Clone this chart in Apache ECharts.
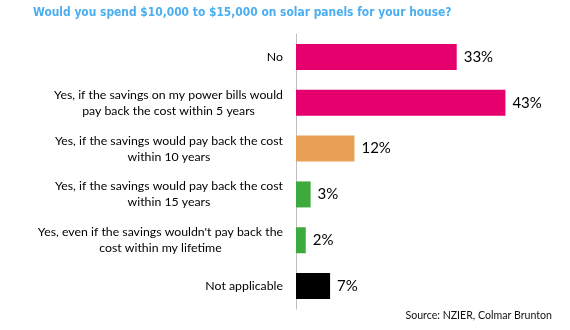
<!DOCTYPE html>
<html>
<head>
<meta charset="utf-8">
<script src="https://cdn.jsdelivr.net/npm/echarts@6/dist/echarts.min.js"></script>
<style>html,body{margin:0;padding:0;background:#fff;}#c{width:570px;height:330px;}</style>
</head>
<body>
<div id="c"></div>
<script>
const categories = [
  "No",
  "Yes, if the savings on my power bills would\npay back the cost within 5 years",
  "Yes, if the savings would pay back the cost\nwithin 10 years",
  "Yes, if the savings would pay back the cost\nwithin 15 years",
  "Yes, even if the savings wouldn't pay back the\ncost within my lifetime",
  "Not applicable"
];
const values = [33, 43, 12, 3, 2, 7];
const barColors = ["#E5006E", "#E5006E", "#E8A155", "#3DAA3D", "#3DAA3D", "#000000"];
const titleText = "Would you spend $10,000 to $15,000 on solar panels for your house?";
const sourceText = "Source: NZIER, Colmar Brunton";

const chart = echarts.init(document.getElementById('c'), null, {renderer: 'canvas'});
chart.setOption({
  animation: false,
  backgroundColor: '#ffffff',
  title: {
    text: titleText,
    left: 28, top: 2,
    textStyle: {color: '#4AAEF0', fontFamily: 'DejaVu Sans Condensed', fontWeight: 'bold', fontSize: 11.9}
  },
  graphic: [{
    type: 'text', right: 18, top: 310,
    style: {text: sourceText, fill: '#111', font: '10.6px Lato'}
  }],
  grid: {left: 296, top: 34, width: 243.5, height: 275, containLabel: false},
  xAxis: {type: 'value', min: 0, max: 50, show: false},
  yAxis: {
    type: 'category', data: categories, inverse: true,
    axisLine: {show: true, lineStyle: {color: '#BFBFBF', width: 1}},
    axisTick: {show: false},
    axisLabel: {
      margin: 13, color: '#000', fontFamily: 'Lato', fontSize: 12.3, lineHeight: 16,
      formatter: v => v.split('\n').map(l => '{c|' + l + '}').join('\n'),
      rich: {c: {align: 'center', fontFamily: 'Lato', fontSize: 12.3, lineHeight: 16, color: '#000'}}
    }
  },
  series: [{
    type: 'bar', barWidth: 26,
    data: values.map((v, i) => ({value: v, itemStyle: {color: barColors[i]}})),
    label: {show: true, position: 'right', distance: 7, formatter: '{c}%', color: '#000', fontFamily: 'Lato', fontSize: 15}
  }]
});
</script>
</body>
</html>
